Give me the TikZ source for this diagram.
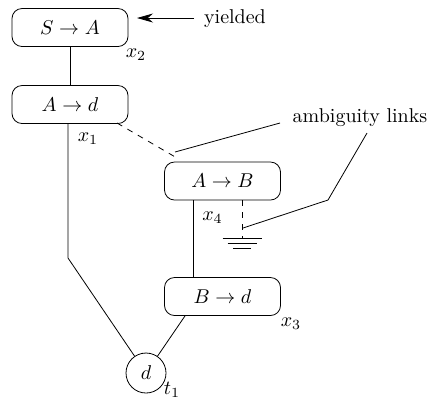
\documentclass[tikz,border=0pt]{standalone}
\usepackage{amsmath,amssymb}
\usetikzlibrary{arrows.meta, positioning}

\begin{document}
\begin{tikzpicture}[
  x=0.5pt, y=-0.5pt,
  >={Stealth[length=8pt, width=4.5pt]},
  rule/.style={draw, rounded corners=5pt, minimum width=58pt, minimum height=19pt, inner sep=0pt},
  term/.style={circle, draw, minimum size=20pt, inner sep=0pt},
  lbl/.style={inner sep=0pt}
]
  \useasboundingbox (0,0) rectangle (431,404);
  \node[rule] (SA) at (70,27.5) {$S \to A$};
  \node[rule] (Ad) at (70,104.5) {$A \to d$};
  \node[rule] (AB) at (222.5,181) {$A \to B$};
  \node[rule] (Bd) at (222.5,296.5) {$B \to d$};
  \node[term] (d) at (146,373) {$d$};
  \node[lbl] (x2) at (136,55) {$x_2$};
  \node[lbl] (x1) at (88,139) {$x_1$};
  \node[lbl] (x4) at (212.5,218) {$x_4$};
  \node[lbl] (x3) at (291,324) {$x_3$};
  \node[lbl] (t1) at (172,390) {$t_1$};
  \node[lbl] (yielded) at (235,19) {yielded};
  \node[lbl] (amb) at (360,118) {ambiguity links};
  \coordinate (bend) at (68,258);
  \coordinate (gnd) at (242,238);
  \coordinate (amb1) at (280,123);
  \coordinate (amb2) at (367,133);
  \coordinate (kink) at (328,200);
  \coordinate (tip1) at (175,152);
  \coordinate (tip2) at (243,228);
  \coordinate (dash1) at (117,123);
  \coordinate (dash2) at (177,158);
  \coordinate (ytail) at (194,18);
  \coordinate (yhead) at (137,18);
  \draw (SA) -- (Ad);
  \draw (Ad.south -| bend) -- (bend) -- (d);
  \draw ([xshift=-14.75pt]AB.south) -- ([xshift=-14.75pt]Bd.north);
  \draw ([xshift=-18.75pt]Bd.south) -- (d);
  \draw[dashed] (dash1) -- (dash2);
  \draw[dashed] ([xshift=9.75pt]AB.south) -- (gnd);
  \draw ([xshift=-9.75pt]gnd) -- ([xshift=9.75pt]gnd);
  \draw ([xshift=-7.25pt,yshift=-2.5pt]gnd) -- ([xshift=7.25pt,yshift=-2.5pt]gnd);
  \draw ([xshift=-4.5pt,yshift=-5pt]gnd) -- ([xshift=4.5pt,yshift=-5pt]gnd);
  \draw[->] (ytail) -- (yhead);
  \draw (amb1) -- (tip1);
  \draw (amb2) -- (kink) -- (tip2);
\end{tikzpicture}
\end{document}
